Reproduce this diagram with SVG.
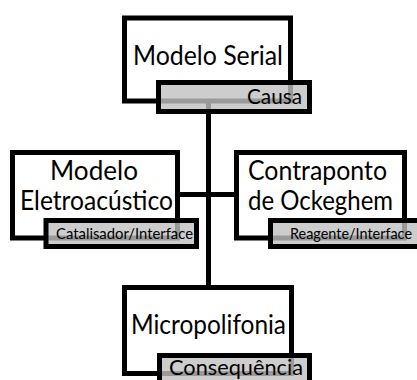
<svg xmlns="http://www.w3.org/2000/svg" width="417" height="380" viewBox="0 0 417 380">
<style>
.box{fill:#ffffff;stroke:#000000;stroke-width:5}
.tab{fill:#c0c0c0;fill-opacity:0.8;stroke:#000000;stroke-width:5}
.conn{stroke:#000000;stroke-width:5;fill:none}
.t{font-family:Lato,"Liberation Sans",sans-serif;font-size:26px;fill:#000000}
.s{font-family:Lato,"Liberation Sans",sans-serif;fill:#000000}
</style>
<rect width="417" height="380" fill="#ffffff"/>
<g id="connectors">
<line class="conn" x1="208.5" y1="101" x2="208.5" y2="287"/>
<line class="conn" x1="177.5" y1="194.5" x2="236.5" y2="194.5"/>
</g>
<g id="modelo-serial">
<rect class="box" x="124.5" y="18" width="166" height="83"/>
<text class="t" x="208" y="65" text-anchor="middle" textLength="150" lengthAdjust="spacingAndGlyphs">Modelo Serial</text>
<rect class="tab" x="158.5" y="82.5" width="151" height="29"/>
<text class="s" x="302" y="104" font-size="22" text-anchor="end" textLength="55" lengthAdjust="spacingAndGlyphs">Causa</text>
</g>
<g id="modelo-eletroacustico">
<rect class="box" x="12.5" y="152.5" width="165" height="85.5"/>
<text class="t" x="94" y="180" text-anchor="middle" textLength="88" lengthAdjust="spacingAndGlyphs">Modelo</text>
<text class="t" x="96.5" y="210" text-anchor="middle" textLength="153" lengthAdjust="spacingAndGlyphs">Eletroacústico</text>
<rect class="tab" x="46" y="220.5" width="150.5" height="26"/>
<text class="s" x="56" y="239" font-size="16" textLength="137" lengthAdjust="spacingAndGlyphs">Catalisador/Interface</text>
</g>
<g id="contraponto">
<rect class="box" x="236.5" y="152.5" width="168" height="85.5"/>
<text class="t" x="317.5" y="180" text-anchor="middle" textLength="139" lengthAdjust="spacingAndGlyphs">Contraponto</text>
<text class="t" x="320.5" y="210" text-anchor="middle" textLength="145" lengthAdjust="spacingAndGlyphs">de Ockeghem</text>
<rect class="tab" x="270.5" y="220.5" width="152" height="26"/>
<text class="s" x="290" y="239" font-size="16" textLength="122" lengthAdjust="spacingAndGlyphs">Reagente/Interface</text>
</g>
<g id="micropolifonia">
<rect class="box" x="124.5" y="287.5" width="167" height="86"/>
<text class="t" x="208.5" y="334" text-anchor="middle" textLength="155" lengthAdjust="spacingAndGlyphs">Micropolifonia</text>
<rect class="tab" x="159.5" y="355.5" width="150" height="32"/>
<text class="s" x="169" y="375" font-size="22" textLength="134" lengthAdjust="spacingAndGlyphs">Consequência</text>
</g>
</svg>
